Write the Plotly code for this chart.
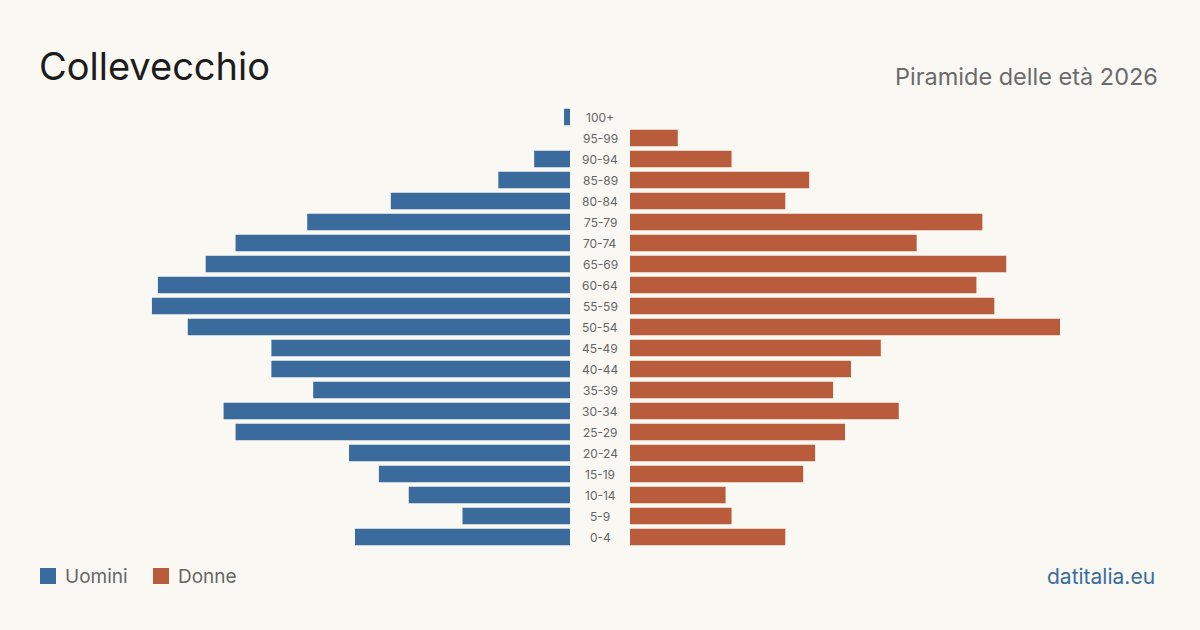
import plotly.graph_objects as go

age_groups = ["0-4", "5-9", "10-14", "15-19", "20-24", "25-29", "30-34", "35-39",
              "40-44", "45-49", "50-54", "55-59", "60-64", "65-69", "70-74",
              "75-79", "80-84", "85-89", "90-94", "95-99", "100+"]
men = [36, 18, 27, 32, 37, 56, 58, 43, 50, 50, 64, 70, 69, 61, 56, 44, 30, 12, 6, 0, 1]
women = [26, 17, 16, 29, 31, 36, 45, 34, 37, 42, 72, 61, 58, 63, 48, 59, 26, 30, 17, 8, 0]
series_names = ["Uomini", "Donne"]

BLUE = "#3b6b9c"
ORANGE = "#b85c3c"
BG = "#f9f8f3"
W, H = 1200, 630
xmax = max(max(men), max(women))
FONT = "Inter, sans-serif"

fig = go.Figure()
fig.add_trace(go.Bar(y=age_groups, x=men, orientation="h", name=series_names[0],
                     marker=dict(color=BLUE, line=dict(width=0)),
                     xaxis="x", yaxis="y", hoverinfo="x+y", showlegend=False))
fig.add_trace(go.Bar(y=age_groups, x=women, orientation="h", name=series_names[1],
                     marker=dict(color=ORANGE, line=dict(width=0)),
                     xaxis="x2", yaxis="y", hoverinfo="x+y", showlegend=False))

for ag in age_groups:
    fig.add_annotation(x=0.5, xref="paper", y=ag, yref="y", text=ag,
                       showarrow=False, xanchor="center", yanchor="middle",
                       font=dict(family=FONT, size=12, color="#666666"))

fig.add_annotation(x=37 / W, y=1 - 66 / H, xref="paper", yref="paper",
                   text="Collevecchio", showarrow=False, xanchor="left", yanchor="middle",
                   font=dict(family=FONT, size=38, color="#1c1c1c"))
fig.add_annotation(x=1160 / W, y=1 - 76 / H, xref="paper", yref="paper",
                   text="Piramide delle età 2026", showarrow=False, xanchor="right", yanchor="middle",
                   font=dict(family=FONT, size=23.5, color="#6b6b6b"))
fig.add_annotation(x=1157 / W, y=1 - 576 / H, xref="paper", yref="paper",
                   text="datitalia.eu", showarrow=False, xanchor="right", yanchor="middle",
                   font=dict(family=FONT, size=21, color=BLUE))

# custom legend
legend_items = [(series_names[0], BLUE, 40), (series_names[1], ORANGE, 153)]
for name, col, x0 in legend_items:
    fig.add_shape(type="rect", xref="paper", yref="paper",
                  x0=x0 / W, x1=(x0 + 16) / W, y0=1 - 584 / H, y1=1 - 568 / H,
                  fillcolor=col, line=dict(width=0))
    fig.add_annotation(x=(x0 + 23) / W, y=1 - 576 / H, xref="paper", yref="paper",
                       text=name, showarrow=False, xanchor="left", yanchor="middle",
                       font=dict(family=FONT, size=19, color="#666666"))

fig.update_layout(
    width=W, height=H,
    margin=dict(l=0, r=0, t=0, b=0),
    paper_bgcolor=BG, plot_bgcolor=BG,
    barmode="overlay", bargap=0.22,
    showlegend=False,
    xaxis=dict(domain=[140 / W, 570 / W], range=[xmax, 0], visible=False, fixedrange=True),
    xaxis2=dict(domain=[630 / W, 1060 / W], range=[0, xmax], visible=False, fixedrange=True),
    yaxis=dict(domain=[1 - 547.5 / H, 1 - 106.5 / H], type="category",
               categoryorder="array", categoryarray=age_groups,
               range=[-0.5, len(age_groups) - 0.5], visible=False, fixedrange=True),
    font=dict(family=FONT),
)

fig.write_html("out.html")
